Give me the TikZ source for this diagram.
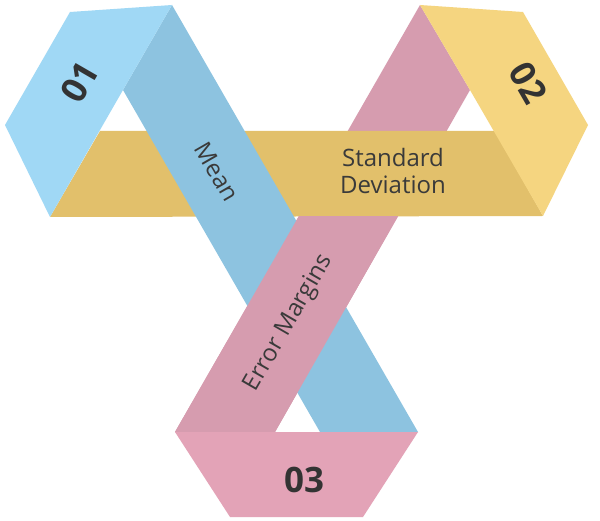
\documentclass[tikz,border=0pt]{standalone}
\usepackage{fontspec}
\setmainfont{Open Sans}
\begin{document}
\begin{tikzpicture}[x=1pt,y=-1pt,
  lbl/.style={text=txtgray,font=\fontsize{24}{27}\selectfont,inner sep=0pt,align=center},
  num/.style={text=numgray,font=\fontsize{35}{36}\selectfont\bfseries,inner sep=0pt}]
\definecolor{bluelight}{HTML}{A0D8F5}
\definecolor{bluedark}{HTML}{8DC3E0}
\definecolor{goldband}{HTML}{E2C06B}
\definecolor{goldlight}{HTML}{F5D580}
\definecolor{pinkband}{HTML}{D69CAF}
\definecolor{pinklight}{HTML}{E3A3B7}
\definecolor{txtgray}{HTML}{3A3A3A}
\definecolor{numgray}{HTML}{333333}
\fill[white] (0,0) rectangle (600,521);
\useasboundingbox (0,0) rectangle (600,521);
% pink band (full)
\fill[pinkband] (420,5) -- (470,90) -- (275,432) -- (175,432) -- cycle;
% gold band over pink
\fill[goldband] (100,131) -- (495,131) -- (543,216) -- (50,217) -- cycle;
% blue band over gold
\fill[bluedark] (172,5) -- (418,432) -- (320,432) -- (123,90) -- cycle;
% pink band again over blue, below gold
\begin{scope}
\clip (0,217) rectangle (600,521);
\fill[pinkband] (420,5) -- (470,90) -- (275,432) -- (175,432) -- cycle;
\end{scope}
% panels
\fill[bluelight] (70,12) -- (172,5) -- (123,90) -- (50,217) -- (5,125) -- cycle;
\fill[goldlight] (420,5) -- (523,12) -- (588,125) -- (543,216) -- (470,90) -- cycle;
\fill[pinklight] (175,432) -- (418,432) -- (363,517) -- (230,517) -- cycle;
% texts
\node[num,rotate=60] (n1) at (80,82) {01};
\node[num,rotate=-60] (n2) at (528,83) {02};
\node[num] (n3) at (304,480) {03};
\node[lbl,rotate=-60] (mean) at (217,172) {Mean};
\node[lbl] (sd) at (393,171) {Standard\\Deviation};
\node[lbl,rotate=60] (err) at (289,323) {Error Margins};
\end{tikzpicture}
\end{document}
